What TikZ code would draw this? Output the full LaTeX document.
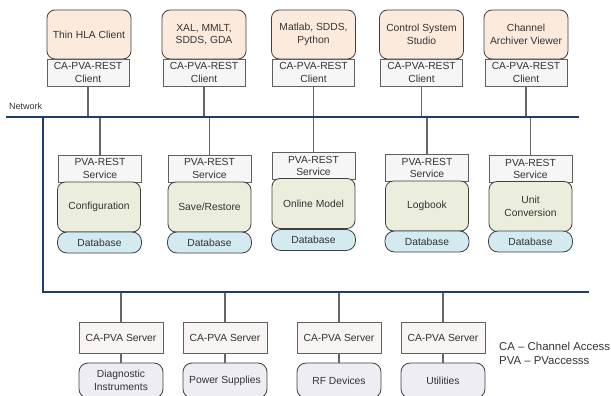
\documentclass[tikz,border=0pt]{standalone}
\usepackage{fontspec}
\setmainfont{Liberation Sans}
\definecolor{appfill}{HTML}{FCEBDD}
\definecolor{cfill}{HTML}{F6F6F6}
\definecolor{vfill}{HTML}{F8F4F3}
\definecolor{gfill}{HTML}{EBEEDD}
\definecolor{dbfill}{HTML}{D3EAF0}
\definecolor{dfill}{HTML}{EDEDF3}
\definecolor{boxline}{HTML}{404040}
\definecolor{sqline}{HTML}{606060}
\definecolor{txt}{HTML}{333333}
\definecolor{netblue}{HTML}{1F3D6B}
\definecolor{conngray}{HTML}{666666}
\begin{document}
\begin{tikzpicture}[x=1pt,y=-1pt,
  base/.style={draw=boxline, line width=0.8pt, inner sep=0pt, align=center, text=txt, font=\fontsize{10.3}{12.5}\selectfont},
  app/.style={base, rounded corners=8pt, fill=appfill, minimum width=84pt, minimum height=49pt},
  client/.style={base, draw=sqline, fill=cfill, minimum width=82pt, minimum height=27pt},
  service/.style={base, draw=sqline, fill=cfill, minimum width=83pt, minimum height=27pt},
  green/.style={base, rounded corners=8pt, fill=gfill, minimum width=83pt, minimum height=50pt},
  db/.style={base, rounded corners=9.5pt, fill=dbfill, minimum width=84pt, minimum height=21pt},
  server/.style={base, draw=sqline, fill=vfill, minimum width=84pt, minimum height=31pt},
  device/.style={base, rounded corners=9pt, fill=dfill, minimum width=84pt, minimum height=35pt},
  net/.style={draw=netblue, line width=2.2pt, line join=miter},
  conn/.style={draw=conngray, line width=1.1pt}
]
\useasboundingbox (0,0) rectangle (611,396);

% network lines
\coordinate (nL) at (6,117);
\coordinate (nR) at (579,117);
\coordinate (vT) at (43,117);
\coordinate (vB) at (43,292);
\coordinate (bR) at (589,292);
\node[anchor=west, inner sep=0pt, text=txt, font=\fontsize{9}{10}\selectfont] (netlabel) at (9,106) {Network};

% client applications
\node[app] (a1) at (89,34.5) {Thin HLA Client};
\node[app] (a2) at (204,34.5) {XAL, MMLT,\\SDDS, GDA};
\node[app] (a3) at (313.5,34.5) {Matlab, SDDS,\\Python};
\node[app] (a4) at (421.5,34.5) {Control System\\Studio};
\node[app] (a5) at (526,34.5) {Channel\\Archiver Viewer};

\node[client] (c1) at (88,72.5) {CA-PVA-REST\\Client};
\node[client] (c2) at (204,72.5) {CA-PVA-REST\\Client};
\node[client] (c3) at (313.5,72.5) {CA-PVA-REST\\Client};
\node[client] (c4) at (421.5,72.5) {CA-PVA-REST\\Client};
\node[client] (c5) at (526,72.5) {CA-PVA-REST\\Client};

% services
\node[service] (s1) at (100,168.5) {PVA-REST\\Service};
\node[service] (s2) at (209.5,168.5) {PVA-REST\\Service};
\node[service] (s3) at (313.5,166) {PVA-REST\\Service};
\node[service] (s4) at (427,168) {PVA-REST\\Service};
\node[service] (s5) at (530.5,169) {PVA-REST\\Service};

\node[green] (g1) at (99,207) {Configuration};
\node[green] (g2) at (209.5,207) {Save/Restore};
\node[green] (g3) at (313.5,203.5) {Online Model};
\node[green] (g4) at (427,206) {Logbook};
\node[green] (g5) at (530.5,206.5) {Unit\\Conversion};

\node[db] (d1) at (99.5,242.5) {Database};
\node[db] (d2) at (209.5,242.5) {Database};
\node[db] (d3) at (313.5,240) {Database};
\node[db] (d4) at (427,241.5) {Database};
\node[db] (d5) at (530.5,241.5) {Database};

% servers
\node[server] (v1) at (121,337.5) {CA-PVA Server};
\node[server] (v2) at (225,337.5) {CA-PVA Server};
\node[server] (v3) at (339,337.5) {CA-PVA Server};
\node[server] (v4) at (443,337.5) {CA-PVA Server};

\node[device] (e1) at (121,380.5) {Diagnostic\\Instruments};
\node[device] (e2) at (225,380.5) {Power Supplies};
\node[device] (e3) at (339,380.5) {RF Devices};
\node[device] (e4) at (443,380.5) {Utilities};

% connectors
\foreach \c in {c1,c2,c3,c4,c5}{\draw[conn] (\c.south) -- (\c.south |- nL);}
\foreach \s in {s1,s2,s3,s4,s5}{\draw[conn] (\s.north |- nL) -- (\s.north);}
\foreach \v in {v1,v2,v3,v4}{\draw[conn] (\v.north |- vB) -- (\v.north);}
\draw[conn] (v1.south) -- (e1.north);
\draw[conn] (v2.south) -- (e2.north);
\draw[conn] (v3.south) -- (e3.north);
\draw[conn] (v4.south) -- (e4.north);

\draw[net] (nL) -- (nR);
\draw[net] (vT) -- (vB) -- (bR);

% legend
\node[anchor=west, align=left, inner sep=0pt, text=txt, font=\fontsize{11.4}{13.3}\selectfont] (legend) at (499,353.5) {CA – Channel Access\\PVA – PVaccesss};
\end{tikzpicture}
\end{document}
